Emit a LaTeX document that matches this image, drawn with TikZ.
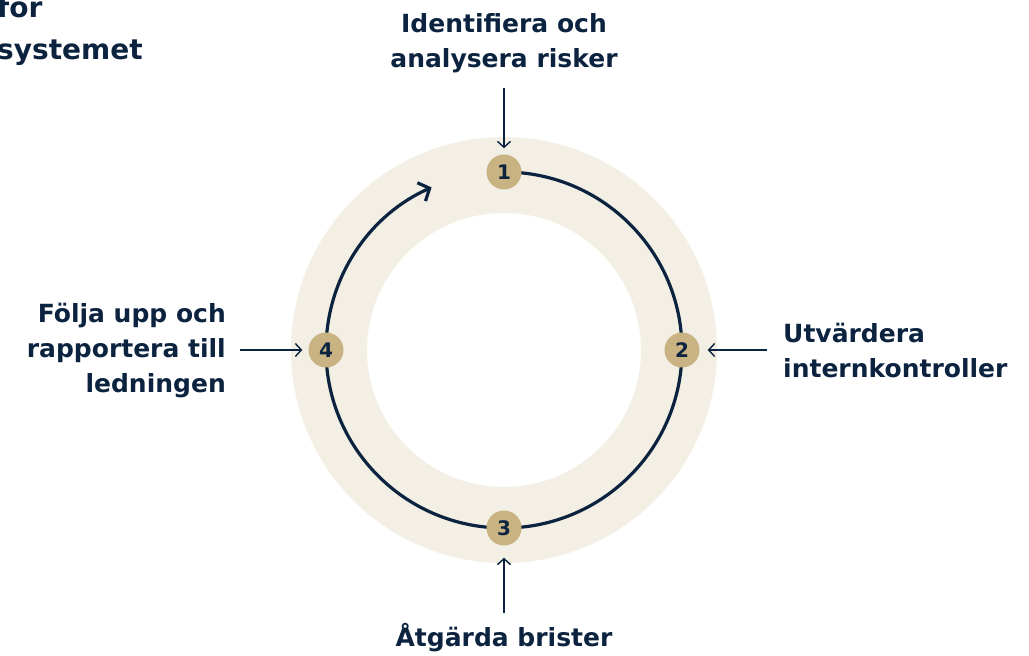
\documentclass[tikz,border=0pt]{standalone}
\usepackage{fontspec}
\setmainfont{DejaVu Sans}
\usetikzlibrary{arrows.meta}
\definecolor{navy}{HTML}{0C2340}
\definecolor{sand}{HTML}{C9B383}
\definecolor{cream}{HTML}{F3EFE5}
\tikzset{
  lbl/.style={font=\bfseries\fontsize{25}{35}\selectfont, text=navy, inner sep=0pt},
  num/.style={circle, fill=sand, minimum size=35pt, inner sep=0pt, text=navy, font=\bfseries\fontsize{20}{20}\selectfont},
  pointer/.style={navy, line width=1.4pt, -{Straight Barb[length=6pt,width=13pt]}},
}
\begin{document}
\begin{tikzpicture}[x=1pt,y=1pt]
    \useasboundingbox (0,0) rectangle (1029,656);
    \coordinate (c) at (504,306);
    % heading, cut off at the page edge
    \node[lbl, font=\bfseries\fontsize{28}{42}\selectfont, align=left, anchor=north west] (head) at (-3,660) {för\\systemet};
    % the band and the cycle
    \fill[cream, even odd rule] (c) circle (213pt) circle (137pt);
    \draw[navy, line width=3.2pt, -{Straight Barb[length=9pt,width=20pt]}] (c) ++(90:178pt) arc[start angle=90, end angle=-246, radius=178pt];
    \foreach \n/\a in {1/90,2/0,3/-90,4/180} \path (c) ++(\a:178pt) node[num] (n\n) {\n};
    % step labels
    \node[lbl, align=center, anchor=north] (t1) at (504,643) {Identifiera och\\analysera risker};
    \node[lbl, align=left, anchor=north west] (t2) at (783,333) {Utvärdera\\internkontroller};
    \node[lbl, align=center, anchor=north] (t3) at (504,33) {Åtgärda brister};
    \node[lbl, align=right, anchor=north east] (t4) at (226,353) {Följa upp och\\rapportera till\\ledningen};
    \coordinate (p1) at (504,568);
    \coordinate (p2) at (767,306);
    \coordinate (p3) at (504,43);
    \coordinate (p4) at (240,306);
    \draw[pointer, shorten >=6pt] (p1) -- (n1);
    \draw[pointer, shorten >=8pt] (p2) -- (n2);
    \draw[pointer, shorten >=12pt] (p3) -- (n3);
    \draw[pointer, shorten >=6pt] (p4) -- (n4);
\end{tikzpicture}
\end{document}
